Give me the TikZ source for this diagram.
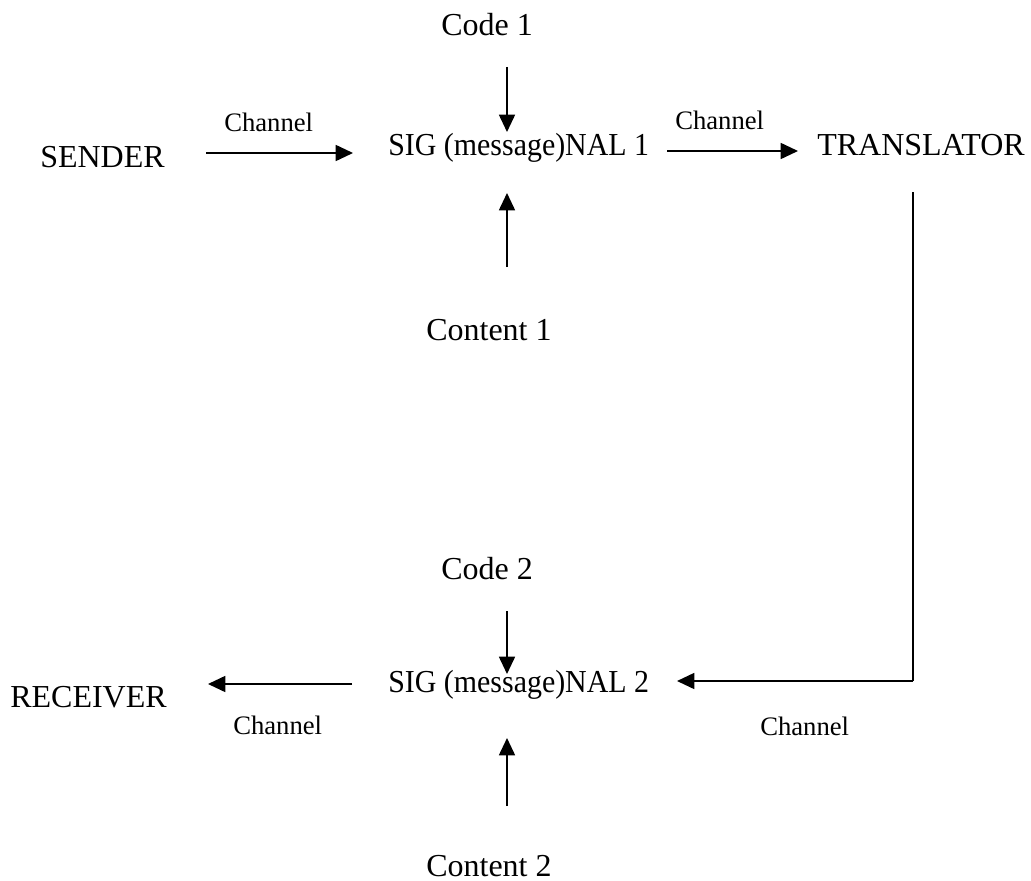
\documentclass[tikz,border=0pt]{standalone}
\usepackage{fontspec}
\setmainfont{Liberation Serif}
\usetikzlibrary{arrows.meta}
\begin{document}
\begin{tikzpicture}[x=0.75pt,y=-0.75pt,
  lbl/.style={inner sep=0pt,anchor=base west,font=\fontsize{24}{28}\selectfont},
  chl/.style={inner sep=0pt,anchor=base west,font=\fontsize{20}{24}\selectfont},
  arr/.style={line width=1.3pt,-{Triangle[length=13pt,width=12pt]}},
  ln/.style={line width=1.3pt}]
\useasboundingbox (0,0) rectangle (1031,881);
% text nodes
\node[lbl] (code1) at (441,36) {Code 1};
\node[lbl] (sender) at (40,167) {SENDER};
\node[lbl] (sig1) at (388,155) {\scalebox{0.935}[1]{SIG (message)NAL 1}};
\node[lbl] (trans) at (817,155) {TRANSLATOR};
\node[lbl] (content1) at (426,340) {Content 1};
\node[chl] (ch1) at (224,131) {Channel};
\node[chl] (ch2) at (675,129) {Channel};
\node[lbl] (code2) at (441,579) {Code 2};
\node[lbl] (receiver) at (10,707) {RECEIVER};
\node[lbl] (sig2) at (388,692) {\scalebox{0.935}[1]{SIG (message)NAL 2}};
\node[chl] (ch3) at (233,734) {Channel};
\node[chl] (ch4) at (760,735) {Channel};
\node[lbl] (content2) at (426,876) {Content 2};
% connector ends
\coordinate (a1s) at (206,153); \coordinate (a1e) at (353,153);
\coordinate (a2s) at (667,151); \coordinate (a2e) at (798,151);
\coordinate (c1s) at (507,67);  \coordinate (c1e) at (507,132);
\coordinate (n1s) at (507,267); \coordinate (n1e) at (507,193);
\coordinate (vt) at (913,192);  \coordinate (vb) at (913,681);
\coordinate (a3e) at (677,681);
\coordinate (a4s) at (352,684); \coordinate (a4e) at (208,684);
\coordinate (c2s) at (507,611); \coordinate (c2e) at (507,674);
\coordinate (n2s) at (507,806); \coordinate (n2e) at (507,738);
% connectors
\draw[arr] (a1s) -- (a1e);
\draw[arr] (a2s) -- (a2e);
\draw[arr] (c1s) -- (c1e);
\draw[arr] (n1s) -- (n1e);
\draw[ln] (vt) -- (vb);
\draw[arr] (vb) -- (a3e);
\draw[arr] (a4s) -- (a4e);
\draw[arr] (c2s) -- (c2e);
\draw[arr] (n2s) -- (n2e);
\end{tikzpicture}
\end{document}
